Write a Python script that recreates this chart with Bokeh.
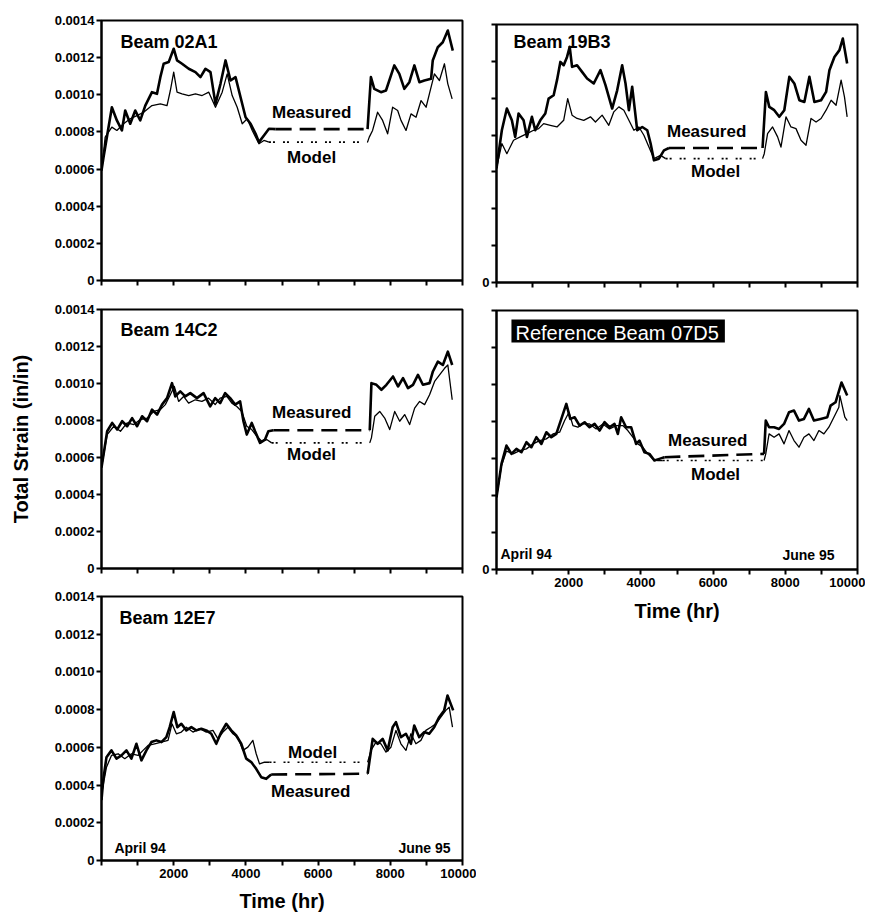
from bokeh.plotting import figure
from bokeh.layouts import row, column
from bokeh.models import FixedTicker, BoxAnnotation, Range1d
from bokeh.core.properties import value
from bokeh.embed import file_html
from bokeh.resources import INLINE

FONT = "Liberation Sans"

# ---------------- data (hours, in/in) ----------------
X_TICKS = [0, 1000, 2000, 3000, 4000, 5000, 6000, 7000, 8000, 9000, 10000]
X_TICK_LABELS = ["", "", "2000", "", "4000", "", "6000", "", "8000", "", "10000"]
Y_TICKS = [0, 0.0002, 0.0004, 0.0006, 0.0008, 0.001, 0.0012, 0.0014]
Y_TICK_LABELS = ["0", "0.0002", "0.0004", "0.0006", "0.0008", "0.0010", "0.0012", "0.0014"]

# Beam 02A1
T_02A1_MEAS = [0, 55, 287, 426, 565, 657, 796, 935, 1074, 1213, 1398, 1537, 1630, 1722, 1861, 2000, 2093, 2231, 2417, 2602,
               2741, 2880, 3019, 3157, 3296, 3435, 3574, 3713, 3852, 3991, 4130, 4269, 4361, 4500, 4639, 4824, 7370, 7463, 7556, 7741,
               7880, 8111, 8250, 8389, 8528, 8667, 8806, 8944, 9130, 9176, 9315, 9454, 9593, 9731]
V_02A1_MEAS = [0.000592, 0.000662, 0.000933, 0.000862, 0.000808, 0.000915, 0.000844, 0.000915, 0.000862, 0.000942,
               0.001014, 0.001005, 0.001095, 0.001167, 0.001176, 0.001248, 0.001185, 0.001167, 0.00114, 0.001122,
               0.001095, 0.00114, 0.001122, 0.000951, 0.001059, 0.001185, 0.001077, 0.001095, 0.000987, 0.000879,
               0.000844, 0.00079, 0.000745, 0.000781, 0.000817, 0.000815, 0.000815, 0.001095, 0.001032, 0.001014,
               0.001023, 0.001158, 0.001113, 0.001032, 0.001068, 0.001158, 0.001068, 0.001077, 0.001086, 0.001185,
               0.001256, 0.001283, 0.001346, 0.001238]
T_02A1_MODEL = [0, 102, 287, 426, 611, 796, 981, 1167, 1398, 1630, 1815, 1907, 2000, 2093, 2231, 2417, 2602, 2787, 2972, 3157,
                3343, 3481, 3620, 3759, 3898, 4037, 4176, 4361, 4500, 4639, 7370, 7417, 7509, 7648, 7787, 7926, 8065, 8204, 8296, 8435,
                8574, 8713, 8852, 8991, 9083, 9222, 9361, 9500, 9593, 9713]
V_02A1_MODEL = [0.000592, 0.000772, 0.000826, 0.000808, 0.000844, 0.000871, 0.000888, 0.000906, 0.000942, 0.000951,
                0.000942, 0.001023, 0.001122, 0.001014, 0.001005, 0.000996, 0.001005, 0.000996, 0.001014, 0.000933,
                0.001014, 0.001113, 0.000996, 0.000933, 0.000844, 0.000871, 0.000808, 0.000736, 0.000754, 0.000745,
                0.000745, 0.000772, 0.000808, 0.000906, 0.000862, 0.00079, 0.000933, 0.000915, 0.000862, 0.000808,
                0.000897, 0.000879, 0.000969, 0.000933, 0.001005, 0.001113, 0.001077, 0.001167, 0.001059, 0.000978]
GAP_02A1_MEAS = (4824, 7370)
GAP_02A1_MODEL = (4639, 7370)

# Beam 19B3
T_19B3_MEAS = [0, 148, 287, 426, 518, 611, 750, 843, 981, 1074, 1213, 1352, 1444, 1583, 1676, 1769, 1861, 1954, 2028, 2093,
               2231, 2370, 2509, 2694, 2880, 3019, 3204, 3343, 3481, 3574, 3667, 3759, 3898, 4037, 4176, 4269, 4361, 4500, 4639, 4778,
               7370, 7463, 7556, 7694, 7833, 7972, 8111, 8250, 8389, 8528, 8667, 8806, 8991, 9130, 9222, 9361, 9500, 9593, 9713]
V_19B3_MEAS = [0.00062, 0.000826, 0.000944, 0.00088, 0.00079, 0.000917, 0.00088, 0.00079, 0.000899, 0.000826,
               0.00088, 0.000917, 0.000998, 0.001016, 0.001098, 0.001197, 0.001179, 0.001224, 0.001279, 0.00117,
               0.001179, 0.001143, 0.001107, 0.00108, 0.001152, 0.001071, 0.000944, 0.001043, 0.001179, 0.00108,
               0.000935, 0.001062, 0.000826, 0.000844, 0.000826, 0.000754, 0.000663, 0.000672, 0.000717, 0.00073,
               0.00073, 0.001034, 0.000953, 0.000935, 0.000899, 0.000935, 0.001116, 0.00108, 0.000989, 0.00098,
               0.001116, 0.00098, 0.000989, 0.001034, 0.001152, 0.001224, 0.001261, 0.001324, 0.001188]
T_19B3_MODEL = [0, 148, 287, 472, 657, 843, 1028, 1167, 1306, 1491, 1676, 1861, 1972, 2093, 2231, 2417, 2602, 2741, 2926, 3111,
                3250, 3389, 3528, 3667, 3806, 3944, 4083, 4222, 4361, 4546, 4685, 7370, 7417, 7509, 7648, 7787, 7880, 8019, 8157, 8296,
                8435, 8574, 8713, 8852, 8991, 9130, 9269, 9407, 9546, 9639, 9713]
V_19B3_MODEL = [0.00062, 0.000754, 0.000699, 0.000772, 0.00079, 0.000808, 0.000826, 0.000835, 0.000862, 0.000853,
                0.000844, 0.00088, 0.000998, 0.000908, 0.00089, 0.00088, 0.000899, 0.000871, 0.000908, 0.000853,
                0.000926, 0.000953, 0.000935, 0.00088, 0.000826, 0.000844, 0.000799, 0.000735, 0.000672, 0.00069,
                0.000672, 0.000672, 0.000699, 0.000808, 0.000844, 0.00079, 0.000735, 0.000899, 0.000844, 0.000835,
                0.000772, 0.000745, 0.00089, 0.000871, 0.00089, 0.000935, 0.000989, 0.000962, 0.001098, 0.001007,
                0.000899]
GAP_19B3_MEAS = (4778, 7370)
GAP_19B3_MODEL = (4685, 7370)

# Beam 14C2
T_14C2_MEAS = [0, 157, 296, 434, 572, 710, 848, 986, 1124, 1262, 1400, 1539, 1677, 1815, 1953, 2044, 2182, 2320, 2459, 2643,
               2827, 3011, 3149, 3287, 3425, 3564, 3702, 3840, 3932, 4024, 4162, 4254, 4392, 4530, 4622, 4760, 7431, 7477, 7616, 7754,
               7892, 8076, 8214, 8352, 8490, 8628, 8766, 8903, 9088, 9180, 9318, 9456, 9594, 9715]
V_14C2_MEAS = [0.000545, 0.000742, 0.000787, 0.000751, 0.000796, 0.000769, 0.000813, 0.000769, 0.000823, 0.000796,
               0.000859, 0.000832, 0.000886, 0.000921, 0.001002, 0.00093, 0.000957, 0.00093, 0.000948, 0.000921,
               0.000948, 0.000876, 0.000921, 0.000894, 0.000948, 0.000921, 0.000886, 0.000903, 0.000796, 0.000724,
               0.000787, 0.000742, 0.000679, 0.000697, 0.000742, 0.000747, 0.000747, 0.001002, 0.000993, 0.000966,
               0.000993, 0.001038, 0.000984, 0.001029, 0.000975, 0.000993, 0.001047, 0.000993, 0.001002, 0.001065,
               0.001118, 0.0011, 0.001172, 0.0011]
T_14C2_MODEL = [0, 157, 341, 525, 710, 893, 1077, 1262, 1446, 1630, 1768, 1906, 2017, 2136, 2274, 2413, 2597, 2781, 2965, 3149,
                3287, 3471, 3610, 3748, 3886, 4024, 4162, 4300, 4438, 4576, 4714, 7431, 7477, 7569, 7707, 7845, 7983, 8122, 8260, 8398,
                8536, 8674, 8812, 8950, 9088, 9227, 9365, 9503, 9594, 9715]
V_14C2_MODEL = [0.000545, 0.000724, 0.000769, 0.000742, 0.000787, 0.000778, 0.000805, 0.000813, 0.000849, 0.000859,
                0.000886, 0.000939, 0.000984, 0.000903, 0.00093, 0.000894, 0.000912, 0.000903, 0.000921, 0.000886,
                0.000921, 0.00093, 0.000894, 0.000876, 0.000849, 0.000769, 0.000751, 0.000715, 0.000688, 0.000697,
                0.000679, 0.000679, 0.000706, 0.000823, 0.000849, 0.000813, 0.000751, 0.000849, 0.000796, 0.000832,
                0.000778, 0.000867, 0.000903, 0.000886, 0.000939, 0.001011, 0.001047, 0.001082, 0.0011, 0.000912]
GAP_14C2_MEAS = (4760, 7431)
GAP_14C2_MODEL = (4714, 7431)

# Reference Beam 07D5
T_07D5_MEAS = [0, 138, 276, 414, 552, 691, 829, 967, 1105, 1243, 1381, 1519, 1657, 1796, 1934, 2044, 2164, 2302, 2440, 2578,
               2716, 2855, 2993, 3131, 3269, 3361, 3453, 3591, 3729, 3867, 3959, 4097, 4236, 4374, 4512, 4650, 7412, 7459, 7551, 7689,
               7827, 7965, 8103, 8241, 8379, 8517, 8655, 8793, 8978, 9163, 9254, 9392, 9558, 9715]
V_07D5_MEAS = [0.00039, 0.000571, 0.00067, 0.000625, 0.000652, 0.000634, 0.000688, 0.000661, 0.000715, 0.000679,
               0.000742, 0.000715, 0.000733, 0.000814, 0.000895, 0.000814, 0.000823, 0.000778, 0.000796, 0.000769,
               0.000787, 0.000751, 0.000796, 0.000769, 0.000787, 0.000733, 0.000823, 0.000769, 0.000769, 0.000679,
               0.000697, 0.000634, 0.000625, 0.000589, 0.000598, 0.000607, 0.000625, 0.000805, 0.000769, 0.000769,
               0.00076, 0.000787, 0.00085, 0.000859, 0.000805, 0.000814, 0.000868, 0.000805, 0.000814, 0.000823,
               0.000886, 0.000904, 0.001011, 0.00094]
T_07D5_MODEL = [0, 138, 276, 460, 644, 829, 1013, 1197, 1381, 1565, 1749, 1888, 2007, 2118, 2256, 2394, 2578, 2762, 2947, 3131,
                3315, 3499, 3638, 3776, 3914, 4052, 4190, 4328, 4466, 4604, 7412, 7459, 7551, 7689, 7827, 7965, 8103, 8241, 8379, 8517,
                8655, 8793, 8931, 9069, 9207, 9346, 9484, 9512, 9650, 9715]
V_07D5_MODEL = [0.00039, 0.00056, 0.00064, 0.000625, 0.000643, 0.000652, 0.000679, 0.000697, 0.000706, 0.000733,
                0.000742, 0.000805, 0.00085, 0.000778, 0.000769, 0.000787, 0.000787, 0.00076, 0.000787, 0.00076,
                0.000778, 0.000778, 0.000751, 0.000715, 0.000679, 0.000661, 0.000625, 0.000598, 0.000589, 0.000589,
                0.000589, 0.000625, 0.000733, 0.000715, 0.000733, 0.000679, 0.000751, 0.000697, 0.000661, 0.000715,
                0.000733, 0.000697, 0.000751, 0.000733, 0.000769, 0.000823, 0.000877, 0.00094, 0.000823, 0.000805]
GAP_07D5_MEAS = (4650, 7412)
GAP_07D5_MODEL = (4604, 7412)

# Beam 12E7
T_12E7_MEAS = [0, 46, 138, 276, 415, 553, 691, 829, 968, 1106, 1244, 1382, 1521, 1659, 1797, 1889, 2000, 2101, 2212, 2350,
               2488, 2626, 2765, 2903, 3041, 3179, 3318, 3456, 3594, 3732, 3871, 4009, 4147, 4285, 4424, 4562, 4700, 7373, 7512, 7650,
               7788, 7927, 8065, 8156, 8294, 8433, 8571, 8663, 8801, 8939, 9078, 9216, 9354, 9492, 9585, 9742]
V_12E7_MEAS = [0.00032, 0.000424, 0.000548, 0.000584, 0.00054, 0.000557, 0.000584, 0.00054, 0.000619, 0.000531,
               0.000584, 0.000628, 0.000637, 0.000628, 0.000654, 0.000707, 0.000787, 0.000707, 0.000725, 0.00069,
               0.000707, 0.00069, 0.000699, 0.00069, 0.000672, 0.000619, 0.000681, 0.000725, 0.00069, 0.000663,
               0.000619, 0.00054, 0.000522, 0.000486, 0.000442, 0.000433, 0.000456, 0.00046, 0.000645, 0.000619,
               0.000645, 0.000584, 0.000707, 0.000734, 0.000654, 0.000672, 0.000619, 0.000716, 0.000654, 0.000681,
               0.000672, 0.000707, 0.00076, 0.000796, 0.000875, 0.000796]
T_12E7_MODEL = [0, 138, 276, 461, 645, 829, 1014, 1152, 1290, 1474, 1659, 1843, 1953, 2074, 2212, 2350, 2534, 2719, 2903, 3087,
                3226, 3364, 3502, 3640, 3779, 3917, 4055, 4193, 4285, 4378, 4516, 4654, 7373, 7465, 7603, 7741, 7880, 8018, 8156, 8294,
                8433, 8571, 8709, 8847, 8986, 9124, 9262, 9400, 9538, 9631, 9723]
V_12E7_MODEL = [0.00035, 0.000495, 0.000557, 0.000566, 0.00054, 0.000566, 0.000557, 0.000584, 0.00061, 0.000619,
                0.000628, 0.000637, 0.000725, 0.000672, 0.000681, 0.000707, 0.000681, 0.000699, 0.000681, 0.00069,
                0.000645, 0.000681, 0.000707, 0.000672, 0.000654, 0.000584, 0.000601, 0.000637, 0.000566, 0.000512,
                0.000522, 0.000521, 0.000521, 0.000584, 0.000628, 0.000619, 0.000575, 0.000601, 0.00069, 0.000619,
                0.000584, 0.000672, 0.000619, 0.000637, 0.00069, 0.000707, 0.000725, 0.00076, 0.000796, 0.000813,
                0.000707]
GAP_12E7_MEAS = (4700, 7373)
GAP_12E7_MODEL = (4654, 7373)


# ---------------- helpers ----------------
def split_series(t, v, gap):
    n = min(len(t), len(v))
    t, v = t[:n], v[:n]
    g0, g1 = gap
    a = [(ti, vi) for ti, vi in zip(t, v) if ti <= g0]
    b = [(ti, vi) for ti, vi in zip(t, v) if g0 <= ti <= g1]
    c = [(ti, vi) for ti, vi in zip(t, v) if ti >= g1]
    return a, b, c


def draw_series(p, t, v, gap, solid_w, gap_dash, gap_w):
    a, b, c = split_series(t, v, gap)
    for seg in (a, c):
        if seg:
            p.line([s[0] for s in seg], [s[1] for s in seg], line_color="black", line_width=solid_w,
                   line_join="round")
    if b:
        p.line([s[0] for s in b], [s[1] for s in b], line_color="black", line_width=gap_w,
               line_dash=gap_dash)


def make_panel(frame_h, mb_left, mb_right, mb_top, mb_bottom, ylabels, xlabels):
    p = figure(frame_width=361, frame_height=frame_h,
               x_range=Range1d(0, 10000), y_range=Range1d(0, 0.0014),
               output_backend="svg", toolbar_location=None,
               min_border_left=mb_left, min_border_right=mb_right,
               min_border_top=mb_top, min_border_bottom=mb_bottom)
    p.xgrid.visible = False
    p.ygrid.visible = False
    p.outline_line_color = "black"
    p.outline_line_width = 2
    p.background_fill_color = "white"
    p.border_fill_color = "white"
    for ax in (p.xaxis[0], p.yaxis[0]):
        ax.axis_line_width = 2
        ax.axis_line_color = "black"
        ax.major_tick_line_width = 2
        ax.major_tick_line_color = "black"
        ax.major_tick_out = 5
        ax.major_tick_in = 0
        ax.minor_tick_line_color = None
        ax.major_label_text_font = FONT
        ax.major_label_text_font_style = "bold"
        ax.major_label_text_font_size = "13px"
        ax.major_label_text_color = "black"
    p.xaxis[0].ticker = FixedTicker(ticks=X_TICKS)
    p.yaxis[0].ticker = FixedTicker(ticks=Y_TICKS)
    p.yaxis[0].major_label_standoff = 2
    if ylabels:
        p.yaxis[0].major_label_overrides = dict(zip(Y_TICKS, Y_TICK_LABELS))
    else:
        p.yaxis[0].major_label_overrides = {tk: ("0" if tk == 0 else "") for tk in Y_TICKS}
    if xlabels:
        p.xaxis[0].major_label_overrides = dict(zip(X_TICKS, X_TICK_LABELS))
        p.xaxis[0].major_label_standoff = 3
    else:
        p.xaxis[0].major_label_text_font_size = "0px"
        p.xaxis[0].major_label_standoff = 0
    return p


# text glyphs render a few px below their alphabetic anchor; lift them a little
TEXT_LIFT = 0.00003


def add_text(p, x, y, txt, size="17px", style="bold", align="left", color="black"):
    p.text(x=[x], y=[y + TEXT_LIFT], text=[txt], text_font=value(FONT), text_font_style=style,
           text_font_size=size, text_align=align, text_baseline="alphabetic", text_color=color)


def style_xlabel(p, standoff):
    ax = p.xaxis[0]
    ax.axis_label = "Time (hr)"
    ax.axis_label_text_font = FONT
    ax.axis_label_text_font_style = "bold"
    ax.axis_label_text_font_size = "20px"
    ax.axis_label_standoff = standoff
    ax.axis_label_text_color = "black"


MEAS_W, MODEL_W = 2.6, 1.3
MEAS_DASH, MODEL_DASH = "16 8", "2 2 2 8"

# ---------------- panels ----------------
p1 = make_panel(260, 101, 14, 20, 17, True, False)
draw_series(p1, T_02A1_MEAS, V_02A1_MEAS, GAP_02A1_MEAS, MEAS_W, MEAS_DASH, 2.6)
draw_series(p1, T_02A1_MODEL, V_02A1_MODEL, GAP_02A1_MODEL, MODEL_W, MODEL_DASH, 1.6)
add_text(p1, 528, 0.001255, "Beam 02A1", size="18px")
add_text(p1, 4722, 0.000872, "Measured")
add_text(p1, 5139, 0.00063, "Model")

p2 = make_panel(258, 20, 8, 24, 16, False, False)
draw_series(p2, T_19B3_MEAS, V_19B3_MEAS, GAP_19B3_MEAS, MEAS_W, MEAS_DASH, 2.6)
draw_series(p2, T_19B3_MODEL, V_19B3_MODEL, GAP_19B3_MODEL, MODEL_W, MODEL_DASH, 1.6)
add_text(p2, 472, 0.001275, "Beam 19B3", size="18px")
add_text(p2, 4722, 0.000787, "Measured")
add_text(p2, 5389, 0.00057, "Model")

p3 = make_panel(259, 101, 14, 12, 16, True, False)
draw_series(p3, T_14C2_MEAS, V_14C2_MEAS, GAP_14C2_MEAS, MEAS_W, MEAS_DASH, 2.6)
draw_series(p3, T_14C2_MODEL, V_14C2_MODEL, GAP_14C2_MODEL, MODEL_W, MODEL_DASH, 1.6)
add_text(p3, 525, 0.00126, "Beam 14C2", size="18px")
add_text(p3, 4724, 0.000811, "Measured")
add_text(p3, 5138, 0.000584, "Model")
ya = p3.yaxis[0]
ya.axis_label = "Total Strain (in/in)"
ya.axis_label_text_font = FONT
ya.axis_label_text_font_style = "bold"
ya.axis_label_text_font_size = "20px"
ya.axis_label_standoff = 20
ya.axis_label_text_color = "black"

p4 = make_panel(259, 20, 8, 12, 10, False, True)
p4.add_layout(BoxAnnotation(left=414, right=6326, bottom=0.001227, top=0.001351,
                            fill_color="black", fill_alpha=1.0, line_color=None, level="underlay"))
draw_series(p4, T_07D5_MEAS, V_07D5_MEAS, GAP_07D5_MEAS, MEAS_W, MEAS_DASH, 2.6)
draw_series(p4, T_07D5_MODEL, V_07D5_MODEL, GAP_07D5_MODEL, MODEL_W, MODEL_DASH, 1.6)
add_text(p4, 525, 0.001249, "Reference Beam 07D5", size="20px", style="normal", color="white")
add_text(p4, 4751, 0.00067, "Measured")
add_text(p4, 5387, 0.000481, "Model")
add_text(p4, 110, 0.000054, "April 94", size="14px")
add_text(p4, 9365, 0.000049, "June 95", size="14px", align="right")
style_xlabel(p4, 10)

p5 = make_panel(264, 101, 14, 12, 10, True, True)
draw_series(p5, T_12E7_MEAS, V_12E7_MEAS, GAP_12E7_MEAS, MEAS_W, MEAS_DASH, 2.6)
draw_series(p5, T_12E7_MODEL, V_12E7_MODEL, GAP_12E7_MODEL, MODEL_W, MODEL_DASH, 1.6)
add_text(p5, 497, 0.001257, "Beam 12E7", size="18px")
add_text(p5, 5166, 0.000541, "Model")
add_text(p5, 4696, 0.000334, "Measured")
add_text(p5, 359, 0.000037, "April 94", size="14px")
add_text(p5, 9668, 0.000037, "June 95", size="14px", align="right")
style_xlabel(p5, 9)

layout = row(column(p1, p3, p5), column(p2, p4))

with open("out.html", "w") as f:
    f.write(file_html(layout, INLINE))
